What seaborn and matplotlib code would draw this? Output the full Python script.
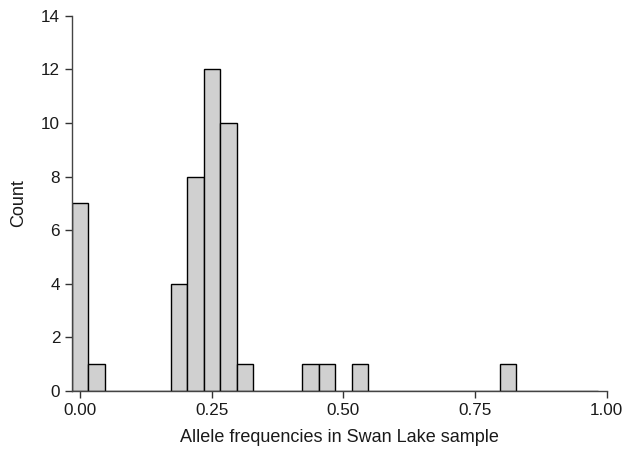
import numpy as np
import seaborn as sns
from matplotlib import pyplot as plt

# allele frequency classes (bin centres) and how many loci fall in each
freq_centres = [0.0, 1/32, 6/32, 7/32, 8/32, 9/32, 10/32, 14/32, 15/32, 17/32, 26/32]
freq_counts = [7, 1, 4, 8, 12, 10, 1, 1, 1, 1, 1]
x_ticks = [0.0, 0.25, 0.5, 0.75, 1.0]
y_ticks = [0, 2, 4, 6, 8, 10, 12, 14]

allele_freqs = np.repeat(freq_centres, freq_counts)

sns.set_style("ticks")
plt.rcParams['font.family'] = ['Liberation Sans', 'DejaVu Sans']

fig = plt.figure(figsize=(6.27, 4.54), dpi=100)
ax = fig.add_axes([0.1148, 0.1388, 0.8528, 0.8267])

sns.histplot(x=allele_freqs,
             bins=np.arange(-1/64, 1.0, 1/32),
             color="#d0d0d0",
             edgecolor="black",
             linewidth=1,
             alpha=1,
             ax=ax)

ax.set_xlim(-1/64, 1.0)
ax.set_ylim(0, 14)
ax.set_xticks(x_ticks)
ax.set_xticklabels([f"{t:.2f}" for t in x_ticks])
ax.set_yticks(y_ticks)
ax.tick_params(labelsize=12.3, length=5, width=1, colors="#333333", labelcolor="#1a1a1a")
for side in ["left", "bottom"]:
    ax.spines[side].set_color("#444444")
    ax.spines[side].set_linewidth(1)
sns.despine(ax=ax)

ax.set_xlabel("Allele frequencies in Swan Lake sample", fontsize=13, labelpad=8, color="#1a1a1a")
ax.set_ylabel("Count", fontsize=13, labelpad=10, color="#1a1a1a")

fig.savefig("out.png", dpi=100)
